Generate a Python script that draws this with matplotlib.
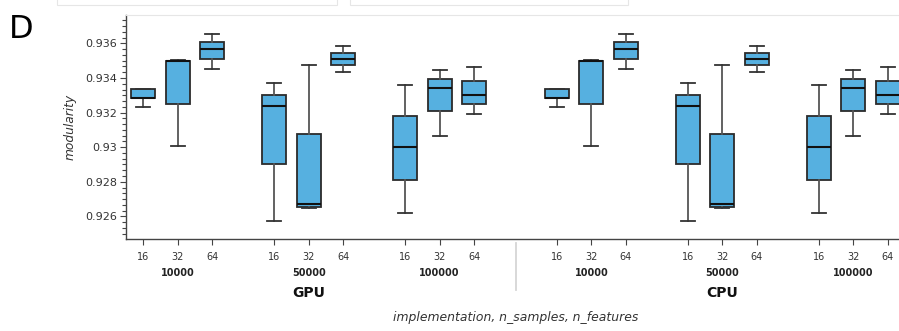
import matplotlib
matplotlib.use("Agg")
import matplotlib.pyplot as plt
import numpy as np
from matplotlib.ticker import MultipleLocator, AutoMinorLocator, FuncFormatter
from matplotlib.transforms import blended_transform_factory
from matplotlib.patches import Rectangle

# ---------------- data ----------------
implementations = ["GPU", "CPU"]
n_samples = ["10000", "50000", "100000"]
n_features = ["16", "32", "64"]

# order: (10000:16,32,64), (50000:16,32,64), (100000:16,32,64)
gpu_min = [0.93231, 0.93005, 0.93450, 0.92573, 0.92649, 0.93435, 0.92621, 0.93065, 0.93194]
gpu_q1  = [0.93283, 0.93248, 0.93512, 0.92905, 0.92656, 0.93475, 0.92812, 0.93208, 0.93248]
gpu_med = [0.93284, 0.93497, 0.93568, 0.93236, 0.92670, 0.93512, 0.93003, 0.93344, 0.93304]
gpu_q3  = [0.93336, 0.93500, 0.93608, 0.93302, 0.93075, 0.93546, 0.93179, 0.93392, 0.93381]
gpu_max = [0.93336, 0.93505, 0.93653, 0.93373, 0.93475, 0.93587, 0.93358, 0.93446, 0.93462]

cpu_min = [0.93231, 0.93005, 0.93450, 0.92573, 0.92649, 0.93435, 0.92621, 0.93065, 0.93194]
cpu_q1  = [0.93283, 0.93248, 0.93512, 0.92905, 0.92656, 0.93475, 0.92812, 0.93208, 0.93248]
cpu_med = [0.93284, 0.93497, 0.93568, 0.93236, 0.92670, 0.93512, 0.93003, 0.93344, 0.93304]
cpu_q3  = [0.93336, 0.93500, 0.93608, 0.93302, 0.93075, 0.93546, 0.93179, 0.93392, 0.93381]
cpu_max = [0.93336, 0.93505, 0.93653, 0.93373, 0.93475, 0.93587, 0.93358, 0.93446, 0.93462]

stats_by_impl = {
    "GPU": (gpu_min, gpu_q1, gpu_med, gpu_q3, gpu_max),
    "CPU": (cpu_min, cpu_q1, cpu_med, cpu_q3, cpu_max),
}

# ---------------- categorical positions (nested factor range) ----------------
GROUP_PAD = 1.4
SUBGROUP_PAD = 0.8
positions, pos_impl, pos_samp = [], [], []
x = 0.0
first = True
for ii, impl in enumerate(implementations):
    if ii > 0:
        x += GROUP_PAD
    for si, s in enumerate(n_samples):
        if si > 0:
            x += SUBGROUP_PAD
        for fi, f in enumerate(n_features):
            if not first:
                x += 1.0
            first = False
            positions.append(x)
            pos_impl.append(impl)
            pos_samp.append((impl, s))

stats = []
for impl in implementations:
    mn, q1, md, q3, mx = stats_by_impl[impl]
    for k in range(len(mn)):
        stats.append(dict(whislo=mn[k], q1=q1[k], med=md[k], q3=q3[k], whishi=mx[k], fliers=[]))

# ---------------- figure ----------------
W, H = 899, 331
fig = plt.figure(figsize=(W / 100, H / 100), dpi=100)
ax_left, ax_right, ax_top, ax_bottom = 126, 905, 15, 239.3
ax = fig.add_axes([ax_left / W, 1 - ax_bottom / H, (ax_right - ax_left) / W, (ax_bottom - ax_top) / H])

box_color = "#56b0e0"
edge = "#2b2b2b"
ax.bxp(stats, positions=positions, widths=0.7, capwidths=0.4, patch_artist=True,
       showfliers=False,
       boxprops=dict(facecolor=box_color, edgecolor=edge, linewidth=1.3),
       medianprops=dict(color="#111111", linewidth=1.5),
       whiskerprops=dict(color="#555555", linewidth=1.3),
       capprops=dict(color="#333333", linewidth=1.3))

ax.set_xlim(-0.5, positions[-1] + 0.5)
ax.set_ylim(0.924676, 0.937642)

ax.yaxis.set_major_locator(MultipleLocator(0.002))
ax.yaxis.set_minor_locator(AutoMinorLocator(6))
ax.yaxis.set_major_formatter(FuncFormatter(lambda v, p: ("%g" % round(v, 3))))

ax.set_xticks(positions, labels=n_features * (len(implementations) * len(n_samples)))

axis_col = "#444444"
txt_col = "#333333"
for side in ["left", "bottom"]:
    ax.spines[side].set_color(axis_col)
    ax.spines[side].set_linewidth(1.0)
ax.spines["top"].set_color("#e6e6e6")
ax.spines["top"].set_linewidth(0.8)
ax.spines["right"].set_visible(False)

ax.tick_params(axis="y", which="major", direction="out", length=4.5, width=0.8, color=axis_col,
               labelsize=8, labelcolor=txt_col, pad=2)
ax.tick_params(axis="y", which="minor", direction="out", length=3, width=0.8, color=axis_col)
ax.tick_params(axis="x", which="major", direction="out", length=4.5, width=0.8, color=axis_col,
               labelsize=7, labelcolor=txt_col, pad=5)

trans = blended_transform_factory(ax.transData, fig.transFigure)

# n_samples group labels
seen = []
for key in pos_samp:
    if key not in seen:
        seen.append(key)
for key in seen:
    xs = [p for p, k in zip(positions, pos_samp) if k == key]
    ax.text(np.mean(xs), 1 - 273.5 / H, key[1], transform=trans, ha="center", va="center",
            fontsize=7, fontweight="bold", color="#222222", clip_on=False)

# implementation labels
for impl in implementations:
    xs = [p for p, k in zip(positions, pos_impl) if k == impl]
    ax.text(np.mean(xs), 1 - 293 / H, impl, transform=trans, ha="center", va="center",
            fontsize=10, fontweight="bold", color="#111111", clip_on=False)

# separator between implementations
idx_last_gpu = max(i for i, k in enumerate(pos_impl) if k == implementations[0])
sep_x = (positions[idx_last_gpu] + positions[idx_last_gpu + 1]) / 2
ax.plot([sep_x, sep_x], [1 - 243 / H, 1 - 290 / H], transform=trans, color="#d6d6d6",
        linewidth=1.3, clip_on=False)

# axis titles
fig.text(((ax_left + ax_right) / 2) / W, 1 - 317 / H, "implementation, n_samples, n_features",
         ha="center", va="center", fontsize=8.9, style="italic", color=txt_col)
fig.text(70 / W, 1 - 127 / H, "modularity", ha="center", va="center", rotation=90,
         fontsize=8.8, style="italic", color=txt_col)

# panel letter
fig.text(9 / W, 1 - 38.3 / H, "D", ha="left", va="baseline", fontsize=23, color="black")

# faint UI boxes at the top
for x0, x1 in [(57, 337), (350, 628)]:
    fig.patches.append(Rectangle((x0 / W, 1 - 4.5 / H), (x1 - x0) / W, 12 / H,
                                 transform=fig.transFigure, facecolor="white",
                                 edgecolor="#e6e6e6", linewidth=0.8))

fig.savefig("out.png", dpi=100)
